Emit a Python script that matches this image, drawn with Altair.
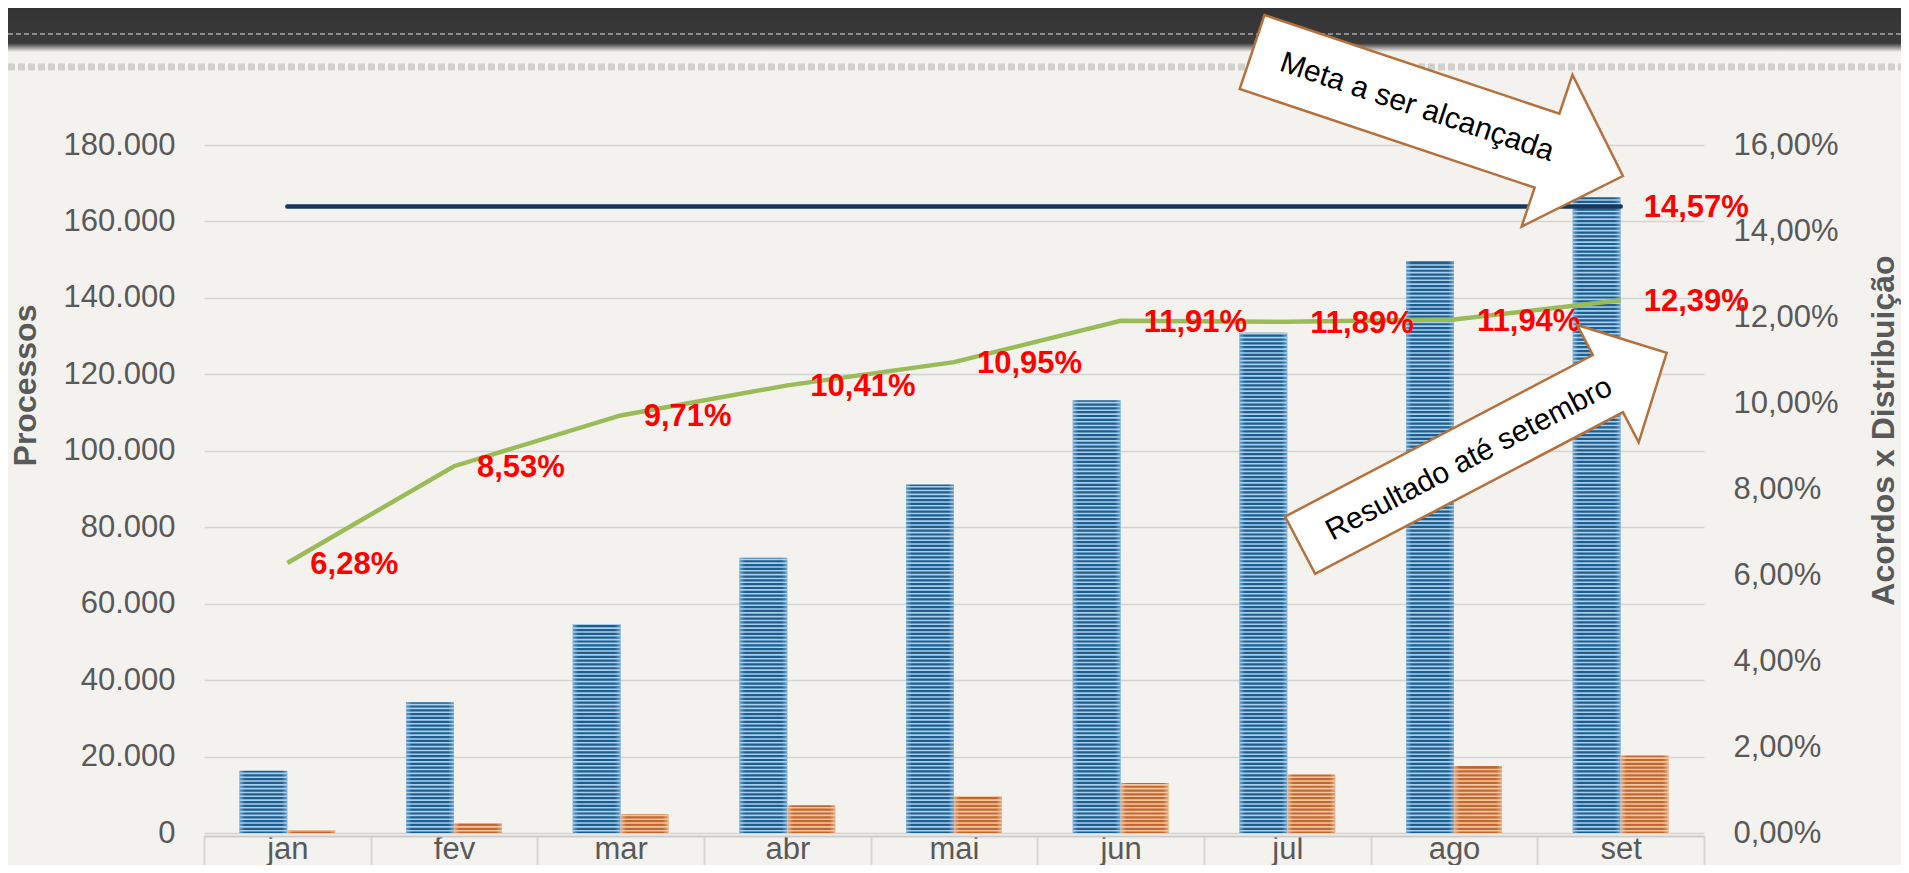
import altair as alt
import pandas as pd

# ---------------- data ----------------
meses = ["jan", "fev", "mar", "abr", "mai", "jun", "jul", "ago", "set"]
distribuidos = [16300, 34200, 54700, 72000, 91200, 113200, 130900, 149600, 166300]
acordos = [700, 2500, 5000, 7250, 9700, 13100, 15300, 17500, 20300]
percentual = [6.28, 8.53, 9.71, 10.41, 10.95, 11.91, 11.89, 11.94, 12.39]
meta = 14.57
series = ["Distribuídos", "Acordos"]
ticks_esq = [0, 20000, 40000, 60000, 80000, 100000, 120000, 140000, 160000, 180000]
ticks_dir = [0, 2, 4, 6, 8, 10, 12, 14, 16]
texto_meta = "Meta a ser alcançada"
texto_result = "Resultado até setembro"

barras = pd.DataFrame({
    "mes": meses * 2,
    "serie": [series[0]] * len(meses) + [series[1]] * len(meses),
    "valor": distribuidos + acordos,
})
linha = pd.DataFrame({"mes": meses, "pct": percentual, "meta": [meta] * len(meses)})

# ---------------- styles ----------------
FONT = "Liberation Sans, Arial, sans-serif"
GREY = "#595959"
BG = "#f4f2ee"
W, H = 1500, 688
PAD = {"left": 196, "top": 137, "right": 197, "bottom": 32}

x_scale = alt.Scale(domain=meses, paddingInner=0, paddingOuter=0)
x_axis = alt.Axis(
    orient="bottom", title=None, grid=False,
    domain=True, domainColor="#cccccc", domainWidth=2, offset=3,
    ticks=True, tickBand="extent", tickSize=40, tickColor="#d6d6d6", tickWidth=2,
    labelFont=FONT, labelFontSize=31, labelColor=GREY, labelAngle=0,
    labelBaseline="alphabetic", labelPadding=-18,
)


def xe():
    return alt.X("mes:N", scale=x_scale, axis=x_axis, title=None)


def xd():
    return alt.XDatum("ago", type="nominal", scale=x_scale, axis=x_axis, title=None)


xo = alt.XOffset("serie:N", scale=alt.Scale(domain=series, paddingInner=0, paddingOuter=0.736))

yl_scale = alt.Scale(domain=[0, 180000], nice=False, zero=True)
yr_scale = alt.Scale(domain=[0, 16], nice=False, zero=True)

axis_esq = alt.Axis(
    orient="left", values=ticks_esq, grid=True, gridColor="#d4d4d4", gridWidth=1.6,
    domain=False, ticks=False, tickSize=0,
    labelFont=FONT, labelFontSize=31, labelColor=GREY, labelPadding=29,
    labelExpr="replace(format(datum.value, ','), ',', '.')",
    title="Processos", titleFont=FONT, titleFontSize=32, titleFontWeight="bold",
    titleColor=GREY, titleAngle=270, titleX=-179, titleY=240,
    titleAlign="center", titleBaseline="middle",
)
axis_dir = alt.Axis(
    orient="right", values=ticks_dir, grid=False,
    domain=False, ticks=False, tickSize=0,
    labelFont=FONT, labelFontSize=31, labelColor=GREY, labelPadding=29,
    labelExpr="replace(format(datum.value, '.2f'), '.', ',') + '%'",
    title="Acordos x Distribuição", titleFont=FONT, titleFontSize=32,
    titleFontWeight="bold", titleColor=GREY, titleAngle=270, titleX=179, titleY=285,
    titleAlign="center", titleBaseline="middle",
)


def grad_h(edge, core):
    return alt.LinearGradient(
        gradient="linear", x1=0, x2=1, y1=0, y2=0,
        stops=[alt.GradientStop(color=edge, offset=0),
               alt.GradientStop(color=core, offset=0.12),
               alt.GradientStop(color=core, offset=0.88),
               alt.GradientStop(color=edge, offset=1)],
    )


one = alt.Data(values=[{}])

# ---------------- background decoration ----------------
faixa = alt.Chart(one).mark_rect(
    fill=alt.LinearGradient(
        gradient="linear", x1=0, x2=0, y1=0, y2=1,
        stops=[alt.GradientStop(color="#333333", offset=0),
               alt.GradientStop(color="#3b3b3b", offset=0.8),
               alt.GradientStop(color=BG, offset=1)],
    )
).encode(x=alt.value(-PAD["left"]), x2=alt.value(W + PAD["right"]),
         y=alt.value(-PAD["top"]), y2=alt.value(-93))

costura1 = alt.Chart(one).mark_rule(color="#8c8c8c", strokeWidth=2, strokeDash=[5, 3]).encode(
    x=alt.value(-PAD["left"]), x2=alt.value(W + PAD["right"]), y=alt.value(-111))
costura2 = alt.Chart(one).mark_rule(color="#d2d0cc", strokeWidth=7, strokeDash=[7, 3]).encode(
    x=alt.value(-PAD["left"]), x2=alt.value(W + PAD["right"]), y=alt.value(-78))

# ---------------- bars ----------------
azul = alt.Chart(barras).transform_filter(alt.datum.serie == series[0]).mark_bar(
    fill=grad_h("#6da4d0", "#1d5e8e")
).encode(x=xe(), xOffset=xo, y=alt.Y("valor:Q", scale=yl_scale, axis=axis_esq))

laranja = alt.Chart(barras).transform_filter(alt.datum.serie == series[1]).mark_bar(
    fill=grad_h("#e6ab80", "#c3672f")
).encode(x=xe(), xOffset=xo, y=alt.Y("valor:Q", scale=yl_scale, axis=None))

listras = alt.Chart(barras).transform_calculate(
    s="sequence(600, datum.valor, 1000)"
).transform_flatten(["s"]).transform_calculate(
    y0="datum.s - 210", y1="min(datum.s + 210, datum.valor)"
).mark_bar().encode(
    x=xe(), xOffset=xo,
    y=alt.Y("y0:Q", scale=yl_scale, axis=None), y2="y1:Q",
    color=alt.Color("serie:N", scale=alt.Scale(domain=series, range=["#a9cfec", "#f4c8a3"]), legend=None),
)

# ---------------- lines ----------------
linha_meta = alt.Chart(linha).mark_line(color="#17375e", strokeWidth=4.5, strokeCap="round").encode(
    x=xe(), y=alt.Y("meta:Q", scale=yr_scale, axis=None))

linha_pct = alt.Chart(linha).mark_line(color="#9bbb59", strokeWidth=4.5).encode(
    x=xe(), y=alt.Y("pct:Q", scale=yr_scale, axis=axis_dir))

rot_pct = alt.Chart(linha).transform_calculate(
    rotulo="replace(format(datum.pct, '.2f'), '.', ',') + '%'"
).mark_text(align="left", baseline="middle", dx=23, dy=2, font=FONT, fontSize=31,
            fontWeight="bold", color="#ff0000").encode(
    x=xe(), y=alt.Y("pct:Q", scale=yr_scale, axis=None), text="rotulo:N")

rot_meta = alt.Chart(linha).transform_filter(alt.datum.mes == meses[-1]).transform_calculate(
    rotulo="replace(format(datum.meta, '.2f'), '.', ',') + '%'"
).mark_text(align="left", baseline="middle", dx=23, dy=2, font=FONT, fontSize=31,
            fontWeight="bold", color="#ff0000").encode(
    x=xe(), y=alt.Y("meta:Q", scale=yr_scale, axis=None), text="rotulo:N")


# ---------------- callout arrows ----------------
def seta(meio, cabeca, base):
    return (f"M-1,{-meio}L{base},{-meio}L{base},{-cabeca}L1,0"
            f"L{base},{cabeca}L{base},{meio}L-1,{meio}Z")


def yd(v):
    return alt.YDatum(v, type="quantitative", scale=yl_scale, axis=None)


seta_meta = alt.Chart(one).mark_point(
    shape=seta(0.1995, 0.4092, 0.5908), size=152881, angle=18.5,
    filled=True, fill="white", stroke="#b5703c", strokeWidth=2.5,
    opacity=1, fillOpacity=1, strokeOpacity=1, xOffset=-16.5,
).encode(x=xd(), y=yd(188110))

txt_meta = alt.Chart(one).mark_text(
    text=texto_meta, angle=18.5, font=FONT, fontSize=30, color="black",
    align="center", baseline="middle", xOffset=-37,
).encode(x=xd(), y=yd(189900))

seta_res = alt.Chart(one).mark_point(
    shape=seta(0.1563, 0.3203, 0.6792), size=171396, angle=332.3,
    filled=True, fill="white", stroke="#b5703c", strokeWidth=2.5,
    opacity=1, fillOpacity=1, strokeOpacity=1, xOffset=29.4,
).encode(x=xd(), y=yd(100465))

txt_res = alt.Chart(one).mark_text(
    text=texto_result, angle=332.3, font=FONT, fontSize=30, color="black",
    align="center", baseline="middle", xOffset=15,
).encode(x=xd(), y=yd(97850))

chart = alt.layer(
    faixa, costura1, costura2,
    azul, laranja, listras,
    linha_meta, linha_pct, rot_pct, rot_meta,
    seta_meta, txt_meta, seta_res, txt_res,
).resolve_scale(y="independent").properties(
    width=W, height=H,
    autosize=alt.AutoSizeParams(type="none"),
    padding=PAD,
    background=BG,
).configure_view(strokeWidth=0)

chart.save("out.html", embed_options={"renderer": "svg", "actions": False})
